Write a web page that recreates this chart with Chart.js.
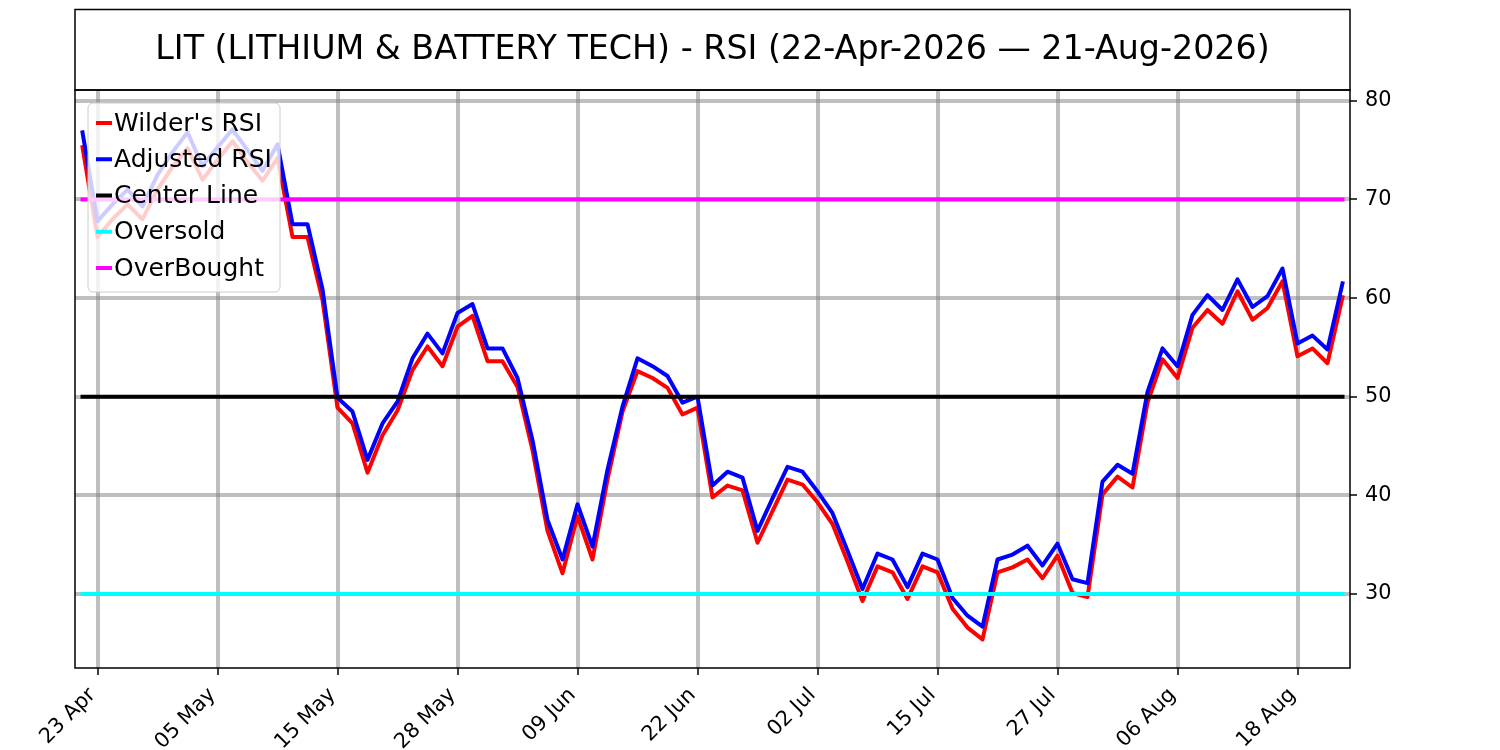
<!DOCTYPE html>
<html>
<head>
<meta charset="utf-8">
<title>LIT RSI</title>
<script src="https://cdn.jsdelivr.net/npm/chart.js@4.4.1/dist/chart.umd.min.js"></script>
<style>
  body { margin: 0; background: #fff; }
  canvas { display: block; }
</style>
</head>
<body>
<canvas id="rsiChart" width="1500" height="750"></canvas>
<script>
const TITLE = 'LIT (LITHIUM & BATTERY TECH) - RSI (22-Apr-2026 — 21-Aug-2026)';

// trading days (US market holidays skipped)
const dates = [
  '22 Apr', '23 Apr', '24 Apr', '27 Apr', '28 Apr', '29 Apr', '30 Apr',
  '01 May', '04 May', '05 May', '06 May', '07 May', '08 May', '11 May', '12 May', '13 May', '14 May', '15 May',
  '18 May', '19 May', '20 May', '21 May', '22 May', '26 May', '27 May', '28 May', '29 May',
  '01 Jun', '02 Jun', '03 Jun', '04 Jun', '05 Jun', '08 Jun', '09 Jun', '10 Jun', '11 Jun', '12 Jun',
  '15 Jun', '16 Jun', '17 Jun', '18 Jun', '22 Jun', '23 Jun', '24 Jun', '25 Jun', '26 Jun', '29 Jun', '30 Jun',
  '01 Jul', '02 Jul', '06 Jul', '07 Jul', '08 Jul', '09 Jul', '10 Jul', '13 Jul', '14 Jul', '15 Jul',
  '16 Jul', '17 Jul', '20 Jul', '21 Jul', '22 Jul', '23 Jul', '24 Jul', '27 Jul', '28 Jul', '29 Jul', '30 Jul', '31 Jul',
  '03 Aug', '04 Aug', '05 Aug', '06 Aug', '07 Aug', '10 Aug', '11 Aug', '12 Aug', '13 Aug', '14 Aug',
  '17 Aug', '18 Aug', '19 Aug', '20 Aug', '21 Aug'
];

const wilderRsi = [
  75.3, 66.2, 68.0, 69.5, 68.0, 71.0, 73.3, 75.2, 72.0, 74.0,
  75.9, 73.8, 71.9, 74.2, 66.2, 66.2, 59.8, 48.9, 47.3, 42.3,
  46.1, 48.6, 52.7, 55.1, 53.1, 57.1, 58.2, 53.6, 53.6, 51.0,
  44.6, 36.4, 32.1, 37.9, 33.5, 41.6, 48.5, 52.6, 51.9, 50.9,
  48.2, 48.9, 39.8, 41.0, 40.5, 35.2, 38.4, 41.6, 41.1, 39.3,
  37.1, 33.3, 29.3, 32.8, 32.2, 29.5, 32.8, 32.2, 28.5, 26.6,
  25.4, 32.2, 32.7, 33.5, 31.6, 33.9, 30.1, 29.7, 40.1, 41.9,
  40.8, 49.4, 53.8, 51.9, 57.0, 58.8, 57.4, 60.7, 57.8, 59.0,
  61.7, 54.1, 54.9, 53.4, 60.1
];

const adjustedRsi = [
  76.8, 67.8, 69.5, 71.0, 69.3, 72.5, 74.8, 76.8, 73.4, 75.3,
  77.1, 75.0, 72.9, 75.6, 67.5, 67.5, 60.9, 49.9, 48.5, 43.6,
  47.3, 49.5, 53.9, 56.4, 54.4, 58.5, 59.4, 54.9, 54.9, 51.9,
  45.6, 37.5, 33.5, 39.1, 34.8, 42.6, 49.0, 53.9, 53.1, 52.1,
  49.4, 50.0, 41.0, 42.4, 41.8, 36.4, 39.7, 42.9, 42.4, 40.4,
  38.2, 34.4, 30.5, 34.1, 33.5, 30.7, 34.1, 33.5, 29.6, 27.8,
  26.7, 33.5, 34.0, 34.9, 32.9, 35.1, 31.5, 31.1, 41.4, 43.1,
  42.2, 50.5, 54.9, 53.1, 58.3, 60.3, 58.8, 61.9, 59.1, 60.2,
  63.0, 55.4, 56.2, 54.8, 61.5
];

const tickDates = ['23 Apr', '05 May', '15 May', '28 May', '09 Jun', '22 Jun',
                   '02 Jul', '15 Jul', '27 Jul', '06 Aug', '18 Aug'];
const yTicks = [30, 40, 50, 60, 70, 80];

const CENTER = 50;
const OVERSOLD = 30;
const OVERBOUGHT = 70;

const first = dates[0];
const last = dates[dates.length - 1];
const flatLine = v => [{ x: first, y: v }, { x: last, y: v }];

const GRID = 'rgba(128,128,128,0.5)';
const FONT = 'DejaVu Sans';

// title box, spines and the boxed legend in the upper left
const decorations = {
  id: 'decorations',
  afterDatasetsDraw(chart) {
    const { ctx, chartArea: a } = chart;
    const x = a.left + 13, y = a.top + 13, w = 192, h = 189;
    ctx.save();
    ctx.beginPath();
    ctx.roundRect(x, y, w, h, 5);
    ctx.fillStyle = 'rgba(255,255,255,0.8)';
    ctx.fill();
    ctx.strokeStyle = '#cccccc';
    ctx.lineWidth = 1;
    ctx.stroke();
    ctx.font = '25px "' + FONT + '"';
    ctx.textBaseline = 'middle';
    chart.data.datasets.forEach((ds, i) => {
      const cy = y + 20 + i * 36.25;
      ctx.strokeStyle = ds.borderColor;
      ctx.lineWidth = 4;
      ctx.beginPath();
      ctx.moveTo(x + 8, cy);
      ctx.lineTo(x + 24, cy);
      ctx.stroke();
      ctx.fillStyle = '#000';
      ctx.fillText(ds.label, x + 26, cy + 1);
    });
    ctx.restore();
  },
  afterDraw(chart) {
    const { ctx, chartArea: a } = chart;
    ctx.save();
    ctx.strokeStyle = '#000';
    ctx.lineWidth = 1.5;
    ctx.strokeRect(a.left, a.top, a.right - a.left, a.bottom - a.top);
    ctx.strokeRect(a.left, 9.5, a.right - a.left, a.top - 9.5);
    ctx.fillStyle = '#000';
    ctx.font = '33.3px "' + FONT + '"';
    ctx.textAlign = 'center';
    ctx.textBaseline = 'middle';
    ctx.fillText(TITLE, (a.left + a.right) / 2, (9.5 + a.top) / 2 + 1);
    ctx.restore();
  }
};

const isTick = i => tickDates.includes(dates[i]);

new Chart(document.getElementById('rsiChart'), {
  type: 'line',
  data: {
    labels: dates,
    datasets: [
      { label: "Wilder's RSI", data: wilderRsi, borderColor: '#ff0000', order: 5 },
      { label: 'Adjusted RSI', data: adjustedRsi, borderColor: '#0000ff', order: 4 },
      { label: 'Center Line', data: flatLine(CENTER), borderColor: '#000000', order: 3 },
      { label: 'Oversold', data: flatLine(OVERSOLD), borderColor: '#00ffff', order: 2 },
      { label: 'OverBought', data: flatLine(OVERBOUGHT), borderColor: '#ff00ff', order: 1 }
    ]
  },
  options: {
    responsive: false,
    animation: false,
    devicePixelRatio: 1,
    layout: { padding: { left: 75, top: 90, right: 0, bottom: 0 } },
    elements: {
      point: { radius: 0 },
      line: { borderWidth: 4, tension: 0, borderCapStyle: 'square', borderJoinStyle: 'round', fill: false }
    },
    plugins: {
      legend: { display: false },
      title: { display: false },
      tooltip: { enabled: false }
    },
    scales: {
      x: {
        type: 'category',
        offset: true,
        border: { display: false },
        grid: {
          offset: false,
          lineWidth: 4,
          color: c => isTick(c.index) ? GRID : 'rgba(0,0,0,0)',
          tickColor: c => isTick(c.index) ? '#000' : 'rgba(0,0,0,0)',
          tickLength: 7,
          tickWidth: 1.5
        },
        ticks: {
          autoSkip: false,
          minRotation: 45,
          maxRotation: 45,
          padding: 8,
          labelOffset: -5,
          color: '#000',
          font: { family: FONT, size: 20.8 },
          callback: (v, i) => isTick(i) ? dates[i] : ''
        },
        afterFit: s => { s.height = 82; }
      },
      y: {
        position: 'right',
        min: 22.5,
        max: 81.1,
        border: { display: false },
        afterBuildTicks: s => { s.ticks = yTicks.map(v => ({ value: v })); },
        grid: {
          lineWidth: 4,
          color: GRID,
          tickColor: '#000',
          tickLength: 7,
          tickWidth: 1.5
        },
        ticks: {
          padding: 8,
          color: '#000',
          font: { family: FONT, size: 20.8 }
        },
        afterFit: s => { s.width = 150; }
      }
    }
  },
  plugins: [decorations]
});
</script>
</body>
</html>
